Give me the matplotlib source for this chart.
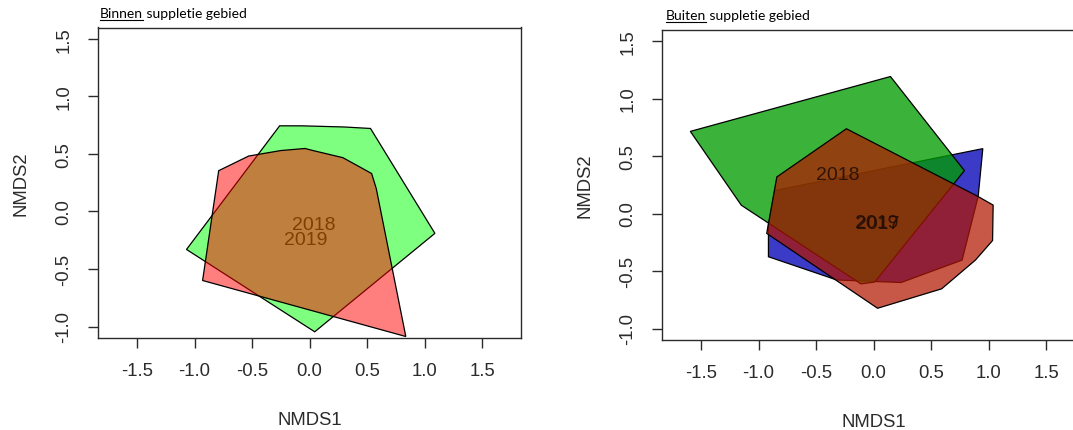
import matplotlib
matplotlib.use("Agg")
import matplotlib.pyplot as plt
from matplotlib.patches import Polygon
from matplotlib.lines import Line2D

plt.rcParams['font.family'] = ['Liberation Sans', 'DejaVu Sans']
plt.rcParams['axes.unicode_minus'] = False

# axis ticks shared by both ordination panels
tick_values = [-1.5, -1.0, -0.5, 0.0, 0.5, 1.0, 1.5]
tick_labels = ["-1.5", "-1.0", "-0.5", "0.0", "0.5", "1.0", "1.5"]
ytick_values = [-1.0, -0.5, 0.0, 0.5, 1.0, 1.5]
ytick_labels = ["-1.0", "-0.5", "0.0", "0.5", "1.0", "1.5"]

# --- inside the nourishment area: convex hulls per year (NMDS1, NMDS2)
binnen_2018_x = [-0.26, -0.07, 0.30, 0.53, 1.09, 0.045, -1.07]
binnen_2018_y = [0.745, 0.745, 0.735, 0.722, -0.19, -1.046, -0.33]
binnen_2019_x = [-0.93, -0.79, -0.53, -0.25, -0.04, 0.03, 0.29, 0.45, 0.54, 0.58, 0.837]
binnen_2019_y = [-0.60, 0.355, 0.482, 0.53, 0.548, 0.53, 0.468, 0.38, 0.33, 0.20, -1.087]
binnen_labels = ["2018", "2019"]
binnen_label_x = [0.04, -0.03]
binnen_label_y = [-0.11, -0.245]

# --- outside the nourishment area
buiten_2018_x = [-1.593, 0.147, 0.79, 0.01, -0.11, -1.15]
buiten_2018_y = [0.714, 1.191, 0.373, -0.596, -0.612, 0.072]
buiten_2017_x = [-0.86, 0.95, 0.91, 0.77, 0.24, -0.32, -0.914, -0.914]
buiten_2017_y = [0.20, 0.564, 0.15, -0.405, -0.60, -0.578, -0.376, -0.10]
buiten_2019_x = [-0.841, -0.236, 0.905, 1.04, 1.035, 0.886, 0.592, 0.035, -0.929]
buiten_2019_y = [0.318, 0.737, 0.15, 0.073, -0.235, -0.405, -0.655, -0.824, -0.173]
buiten_labels = ["2018", "2019", "2017"]
buiten_label_x = [-0.31, 0.03, 0.04]
buiten_label_y = [0.34, -0.08, -0.085]

W, H = 1073, 431
fig = plt.figure(figsize=(W / 100, H / 100), dpi=100)

AX_W = 422.5 / W
AX_H = 310.5 / H
ax1 = fig.add_axes([98.3 / W, 1 - 339.0 / H, AX_W, AX_H])
ax2 = fig.add_axes([662.3 / W, 1 - 341.0 / H, AX_W, AX_H])

FS = 13.3
GREY = "#2b2b2b"


def style_axes(ax):
    ax.set_xlim(-1.837, 1.837)
    ax.set_ylim(-1.1, 1.6)
    ax.set_xticks(tick_values)
    ax.set_xticklabels(tick_labels, fontsize=FS, color=GREY)
    ax.set_yticks(ytick_values)
    ax.set_yticklabels(ytick_labels, fontsize=FS, color=GREY,
                       rotation=90, va="center")
    ax.tick_params(direction="out", length=7.5, width=1.0, color=GREY)
    ax.tick_params(axis="x", pad=10)
    ax.tick_params(axis="y", pad=11)
    for s in ax.spines.values():
        s.set_color(GREY)
        s.set_linewidth(1.0)
    ax.set_xlabel("NMDS1", fontsize=FS, color=GREY, labelpad=23)
    ax.set_ylabel("NMDS2", fontsize=FS, color=GREY, labelpad=19)


def hull(ax, xs, ys, rgb, alpha, z):
    face = (rgb[0] / 255, rgb[1] / 255, rgb[2] / 255, alpha)
    p = Polygon(list(zip(xs, ys)), closed=True, facecolor=face,
                edgecolor="black", linewidth=0.9, zorder=z)
    ax.add_patch(p)


# left panel: labels sit underneath the translucent hulls
style_axes(ax1)
for lab, lx, ly in zip(binnen_labels, binnen_label_x, binnen_label_y):
    ax1.text(lx, ly, lab, fontsize=14, color="black", ha="center",
             va="center", zorder=1)
hull(ax1, binnen_2018_x, binnen_2018_y, (0, 255, 0), 0.5, 2)
hull(ax1, binnen_2019_x, binnen_2019_y, (255, 0, 0), 0.5, 3)

# right panel
style_axes(ax2)
hull(ax2, buiten_2017_x, buiten_2017_y, (0, 0, 183), 0.77, 2)
hull(ax2, buiten_2018_x, buiten_2018_y, (0, 157, 0), 0.77, 3)
hull(ax2, buiten_2019_x, buiten_2019_y, (178, 22, 0), 0.72, 4)
for lab, lx, ly in zip(buiten_labels, buiten_label_x, buiten_label_y):
    ax2.text(lx, ly, lab, fontsize=14, color="#1e0c06", alpha=0.85,
             ha="center", va="center", zorder=5)


def underlined_title(x_px, base_px, first, rest, size=10.0):
    fam = ["Lato", "DejaVu Sans"]
    y = 1 - base_px / H
    t1 = fig.text(x_px / W, y, first, fontsize=size, family=fam,
                  va="baseline", color="black")
    fig.canvas.draw()
    bb = t1.get_window_extent()
    uy = (H - base_px - 2.5) / H
    fig.add_artist(Line2D([bb.x0 / W, bb.x1 / W], [uy, uy],
                          transform=fig.transFigure, color="black",
                          linewidth=0.8))
    fig.text(bb.x1 / W, y, rest, fontsize=size, family=fam,
             va="baseline", color="black")


underlined_title(100, 18.5, "Binnen", " suppletie gebied")
underlined_title(665.5, 20.5, "Buiten", " suppletie gebied")

fig.savefig("out.png", dpi=100)
